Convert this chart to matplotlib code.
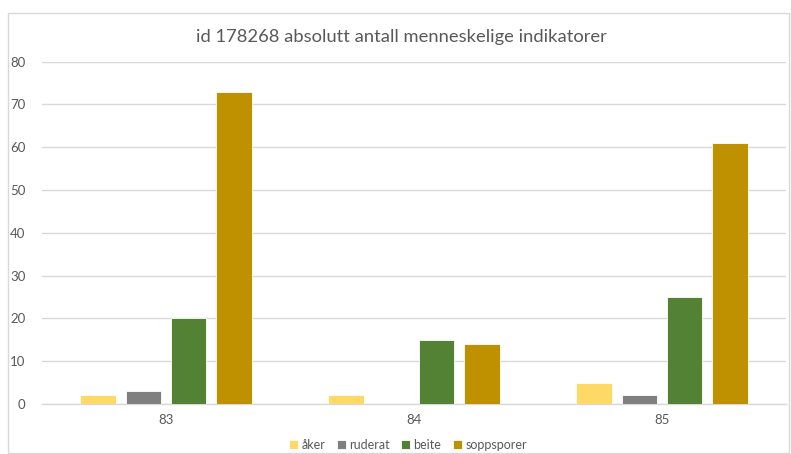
import matplotlib
matplotlib.use("Agg")
import matplotlib.pyplot as plt
import numpy as np
from matplotlib.patches import Rectangle

categories = ["83", "84", "85"]
series = ["åker", "ruderat", "beite", "soppsporer"]
aker = [2, 2, 5]
ruderat = [3, 0, 2]
beite = [20, 15, 25]
soppsporer = [73, 14, 61]
yticks = [0, 10, 20, 30, 40, 50, 60, 70, 80]

colors = ["#FFD966", "#7F7F7F", "#548235", "#BF9000"]
plt.rcParams['font.family'] = ['Lato', 'DejaVu Sans']

fig = plt.figure(figsize=(7.91, 4.54), dpi=100)
fig.patch.set_facecolor("white")
fig.patches.append(Rectangle((8/791, 0.002), 781/791, 1 - 13/454 - 0.002, transform=fig.transFigure,
                             fill=False, edgecolor="#D9D9D9", linewidth=1.0))
ax = fig.add_axes([42/791, 1 - 404/454, 744/791, (404 - 61.7)/454])

x = np.arange(len(categories))
step = 0.183
width = 0.143
data = [aker, ruderat, beite, soppsporer]
for i, (name, vals, c) in enumerate(zip(series, data, colors)):
    ax.bar(x + (i - 1.5) * step, vals, width=width, color=c, edgecolor="white", linewidth=0.6,
           label=name, zorder=3)

ax.set_xlim(-0.5, 2.5)
ax.set_ylim(0, 80)
ax.set_yticks(yticks)
ax.set_xticks(x)
ax.set_xticklabels(categories)
ax.yaxis.grid(True, color="#D9D9D9", linewidth=1.0, zorder=0)
for s in ["top", "right", "left"]:
    ax.spines[s].set_visible(False)
ax.spines["bottom"].set_color("#D9D9D9")
ax.spines["bottom"].set_linewidth(1.0)
ax.tick_params(axis="both", length=0, labelsize=9.5, colors="#595959")
ax.tick_params(axis="y", pad=12)
ax.tick_params(axis="x", pad=7)

fig.text(401/791, 1 - 37/454, "id 178268 absolutt antall menneskelige indikatorer",
         ha="center", va="center", fontsize=13.2, color="#595959")

leg = fig.legend(loc="center", bbox_to_anchor=(408/791, 1 - 445/454), ncol=4, frameon=False,
                 fontsize=9, handlelength=0.7, handleheight=0.7, handletextpad=0.3,
                 columnspacing=0.9)
for t in leg.get_texts():
    t.set_color("#595959")

fig.savefig("out.png", dpi=100)
